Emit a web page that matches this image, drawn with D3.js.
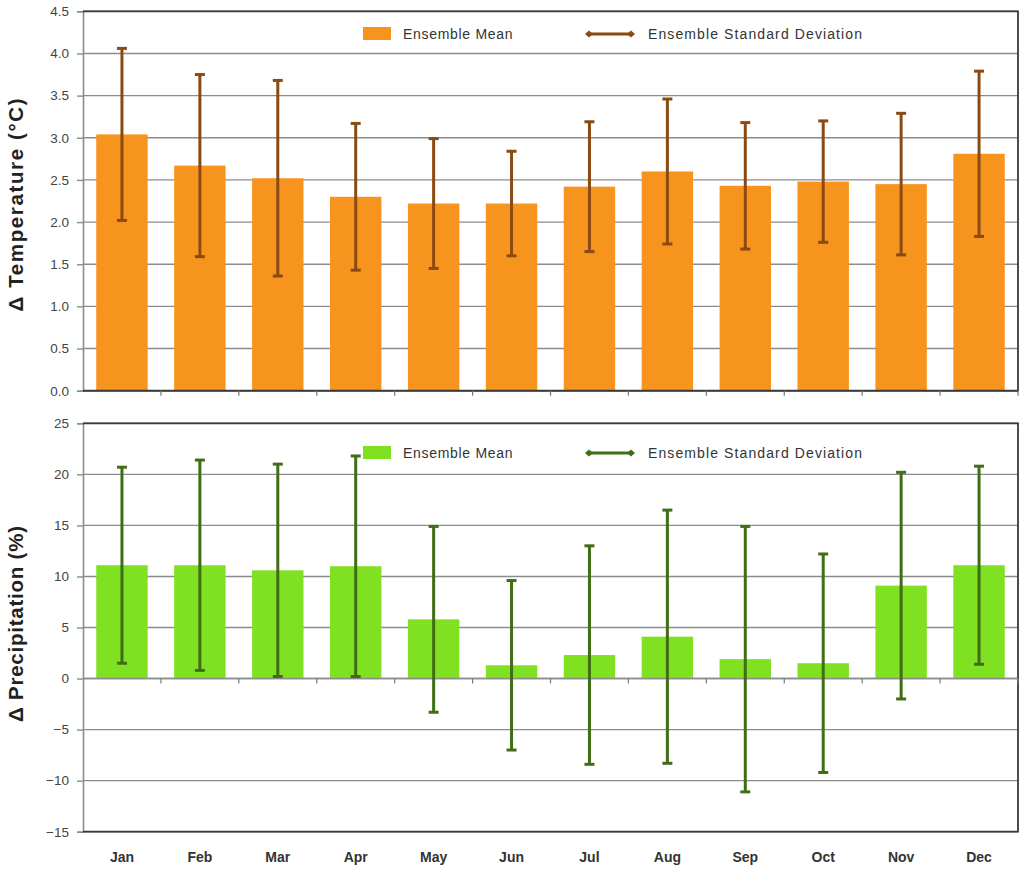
<!DOCTYPE html>
<html>
<head>
<meta charset="utf-8">
<script src="https://cdn.jsdelivr.net/npm/d3@7"></script>
<style>
  html, body { margin: 0; padding: 0; background: #fff; }
  svg { display: block; font-family: "Liberation Sans", Arial, sans-serif; }
</style>
</head>
<body>
<svg id="chart" width="1022" height="875"></svg>
<script>
// Monthly ensemble change: temperature (°C) and precipitation (%)
const months = ["Jan", "Feb", "Mar", "Apr", "May", "Jun", "Jul", "Aug", "Sep", "Oct", "Nov", "Dec"];

const tempMean = [3.04, 2.67, 2.52, 2.30, 2.22, 2.22, 2.42, 2.60, 2.43, 2.48, 2.45, 2.81];
const tempSd   = [1.02, 1.08, 1.16, 0.87, 0.77, 0.62, 0.77, 0.86, 0.75, 0.72, 0.84, 0.98];
const tempTicks = [0.0, 0.5, 1.0, 1.5, 2.0, 2.5, 3.0, 3.5, 4.0, 4.5];

const precMean = [11.1, 11.1, 10.6, 11.0, 5.8, 1.3, 2.3, 4.1, 1.9, 1.5, 9.1, 11.1];
const precSd   = [9.6, 10.3, 10.4, 10.8, 9.1, 8.3, 10.7, 12.4, 13.0, 10.7, 11.1, 9.7];
const precTicks = [-15, -10, -5, 0, 5, 10, 15, 20, 25];

const svg = d3.select("#chart");

const plotLeft = 83, plotRight = 1018;

function panel(cfg) {
  const g = svg.append("g");
  const x = d3.scaleBand().domain(months).range([plotLeft, plotRight])
    .paddingInner(0.34).paddingOuter(0.17);
  const y = d3.scaleLinear().domain(cfg.domain).range([cfg.bottom, cfg.top]);

  // horizontal gridlines
  g.append("g").selectAll("line").data(cfg.ticks).join("line")
    .attr("x1", plotLeft).attr("x2", plotRight)
    .attr("y1", d => y(d)).attr("y2", d => y(d))
    .attr("stroke", "#8c8c8c").attr("stroke-width", 1.4);

  // y axis
  const yAxis = d3.axisLeft(y).tickValues(cfg.ticks).tickFormat(cfg.fmt).tickSize(6).tickPadding(8);
  const ya = g.append("g").attr("transform", `translate(${plotLeft},0)`).call(yAxis);
  ya.select(".domain").attr("stroke", "#8c8c8c").attr("stroke-width", 1.6);
  ya.selectAll(".tick line").attr("stroke", "#8c8c8c").attr("stroke-width", 1.4);
  ya.selectAll(".tick text").attr("fill", "#444").style("font-size", "13.5px")
    .style("font-family", "'Liberation Sans', Arial, sans-serif");

  // bars
  g.append("g").selectAll("rect").data(cfg.mean).join("rect")
    .attr("x", (d, i) => x(months[i]))
    .attr("width", x.bandwidth())
    .attr("y", d => Math.min(y(d), y(0)))
    .attr("height", d => Math.abs(y(0) - y(d)))
    .attr("fill", cfg.barColor);

  // frame: top, right, bottom edges
  g.append("path")
    .attr("d", `M${plotLeft},${cfg.top}H${plotRight}V${cfg.bottom}H${plotLeft}`)
    .attr("fill", "none").attr("stroke", "#3a3a3a").attr("stroke-width", 1.8);

  // x axis at zero with category boundary ticks
  g.append("line").attr("x1", plotLeft).attr("x2", plotRight)
    .attr("y1", y(0)).attr("y2", y(0))
    .attr("stroke", cfg.zeroColor).attr("stroke-width", 1.6);
  const step = x.step();
  g.append("g").selectAll("line").data(d3.range(1, months.length + 1)).join("line")
    .attr("x1", i => plotLeft + i * step).attr("x2", i => plotLeft + i * step)
    .attr("y1", y(0)).attr("y2", y(0) + 5)
    .attr("stroke", "#777").attr("stroke-width", 1.2);

  // error bars (mean ± sd)
  const eb = g.append("g").attr("stroke", cfg.errColor).attr("stroke-width", 3);
  cfg.mean.forEach((m, i) => {
    const cx = x(months[i]) + x.bandwidth() / 2;
    const hi = y(m + cfg.sd[i]), lo = y(m - cfg.sd[i]);
    eb.append("line").attr("x1", cx).attr("x2", cx).attr("y1", hi).attr("y2", lo);
    eb.append("line").attr("x1", cx - 5).attr("x2", cx + 5).attr("y1", hi).attr("y2", hi);
    eb.append("line").attr("x1", cx - 5).attr("x2", cx + 5).attr("y1", lo).attr("y2", lo);
  });

  // y axis title
  g.append("text")
    .attr("transform", `translate(${cfg.titleX},${cfg.titleY}) rotate(-90)`)
    .attr("text-anchor", "middle")
    .attr("fill", "#222")
    .attr("textLength", cfg.titleLen).attr("lengthAdjust", "spacing")
    .style("font-size", "20.5px").style("font-weight", "bold")
    .text(cfg.title);

  // legend
  const ly = cfg.legendY;
  const lg = g.append("g");
  lg.append("rect").attr("x", 363).attr("y", ly - 7).attr("width", 28).attr("height", 13)
    .attr("fill", cfg.barColor);
  lg.append("text").attr("x", 403).attr("y", ly).attr("dy", "0.35em")
    .attr("fill", "#333").style("font-size", "14px").style("letter-spacing", "0.7px")
    .text("Ensemble Mean");
  lg.append("line").attr("x1", 589).attr("x2", 631).attr("y1", ly).attr("y2", ly)
    .attr("stroke", cfg.errColor).attr("stroke-width", 3);
  [589, 631].forEach(px => {
    lg.append("path").attr("d", `M${px - 4},${ly}L${px},${ly - 3.5}L${px + 4},${ly}L${px},${ly + 3.5}Z`)
      .attr("fill", cfg.errColor);
  });
  lg.append("text").attr("x", 648).attr("y", ly).attr("dy", "0.35em")
    .attr("fill", "#333").style("font-size", "14px")
    .attr("textLength", 214).attr("lengthAdjust", "spacing")
    .text("Ensemble Standard Deviation");

  return { x, y };
}

const tempPanel = panel({
  domain: [0, 4.5], top: 11.3, bottom: 390.7, ticks: tempTicks, fmt: d3.format(".1f"),
  mean: tempMean, sd: tempSd, barColor: "#f7941e", errColor: "#8a4a12", zeroColor: "#3a3a3a",
  title: "\u0394 Temperature (\u00B0C)", titleX: 23, titleY: 205, titleLen: 213, legendY: 34
});

const precPanel = panel({
  domain: [-15, 25], top: 423.3, bottom: 831.7, ticks: precTicks, fmt: d3.format("d"),
  mean: precMean, sd: precSd, barColor: "#80e022", errColor: "#3f6e16", zeroColor: "#8c8c8c",
  title: "\u0394 Precipitation (%)", titleX: 23, titleY: 624, titleLen: 196, legendY: 453
});

// month labels beneath the lower panel
svg.append("g").selectAll("text").data(months).join("text")
  .attr("x", d => precPanel.x(d) + precPanel.x.bandwidth() / 2)
  .attr("y", 857).attr("dy", "0.35em")
  .attr("text-anchor", "middle")
  .attr("fill", "#333")
  .style("font-size", "14px").style("font-weight", "bold")
  .text(d => d);
</script>
</body>
</html>
